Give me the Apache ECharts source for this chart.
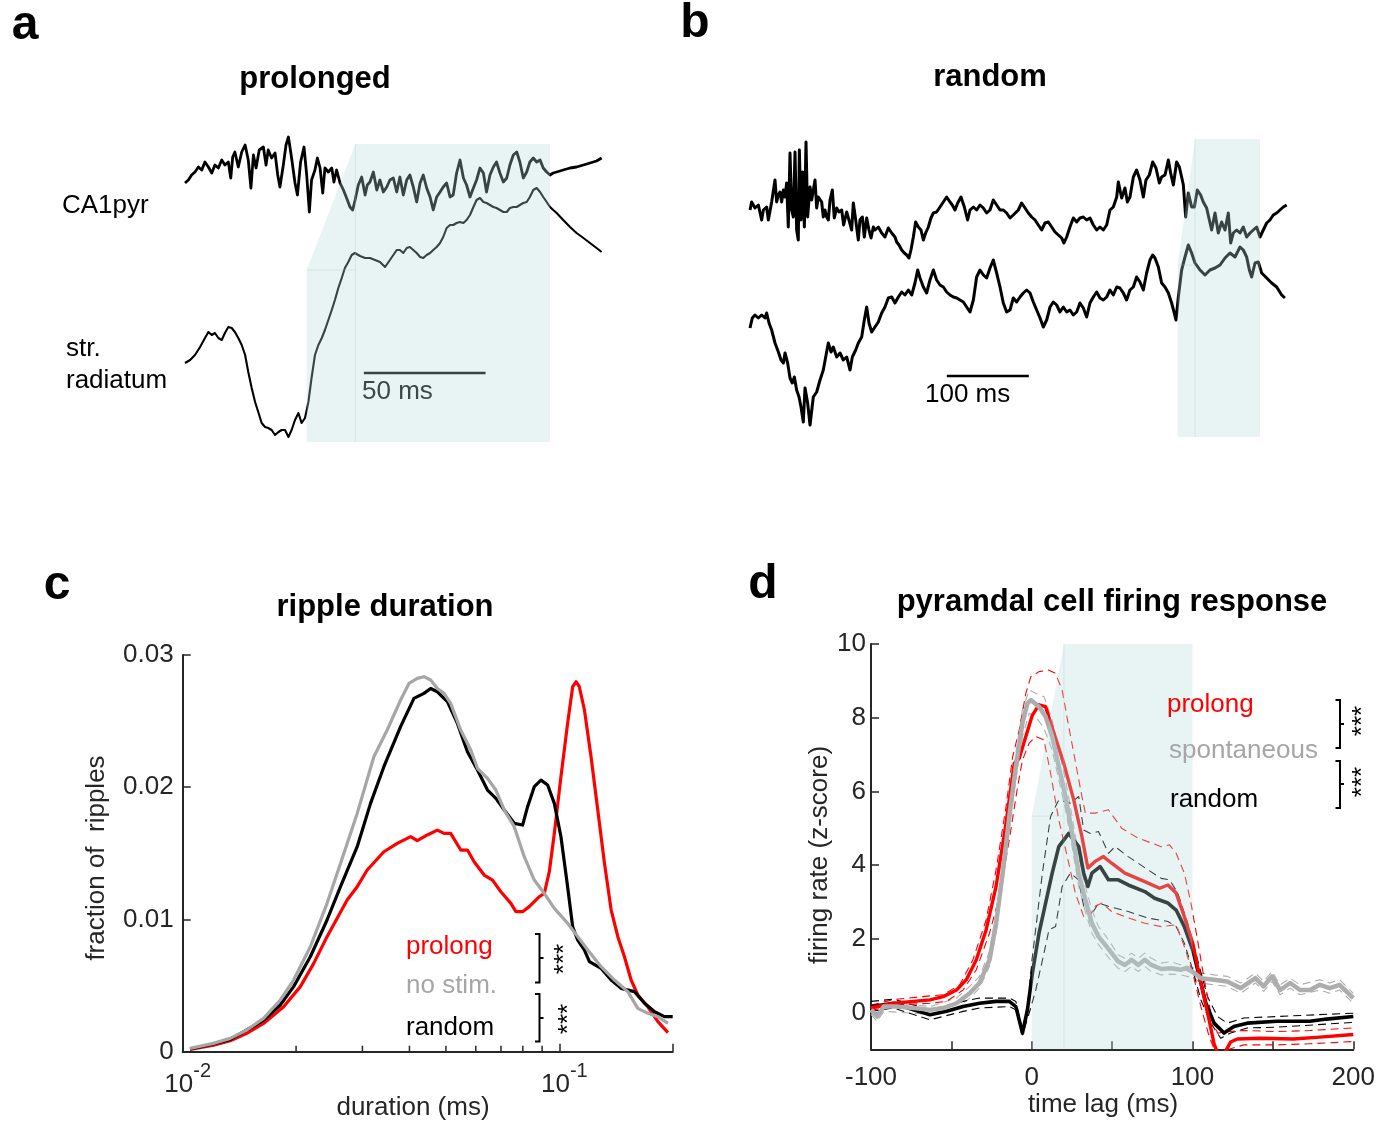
<!DOCTYPE html>
<html>
<head>
<meta charset="utf-8">
<script src="https://cdn.jsdelivr.net/npm/echarts@6/dist/echarts.min.js"></script>
<style>
html,body{margin:0;padding:0;background:#fff;}
#chart{width:1378px;height:1124px;}
</style>
</head>
<body>
<div id="chart"></div>
<script>
// ---------- Panel a: example traces (time ms, amplitude a.u.) ----------
const ca1pyrA = [[0,262],[1.4,265],[2.7,270],[4.1,273],[5.5,278],[6.9,275],[8.2,283],[9.6,278],[11,272],[12.3,280],[13.7,277],[15.1,285],[16.4,280],[17.8,283],[18.8,267],[19.6,288],[20.5,293],[21.9,278],[23.3,293],[24.7,300],[26,285],[27.1,257],[28.1,290],[29.2,277],[30.5,295],[32.2,298],[33.3,280],[34.2,295],[35.6,287],[37,292],[38.1,270],[39,258],[40.4,280],[41.5,300],[42.5,308],[43.8,287],[45.2,262],[46.2,250],[47.5,283],[48.9,298],[50,270],[51.1,233],[52,265],[53.4,275],[54.4,287],[55.5,277],[56.6,252],[57.5,277],[58.9,273],[60.3,277],[61.2,263],[62.3,275],[63.7,262],[65.1,255],[66.4,247],[67.8,238],[68.9,235],[69.9,245],[71.2,260],[72.6,268],[74,250],[74.9,260],[76,263],[77.4,273],[78.8,255],[80.1,265],[81.5,253],[82.9,258],[84.2,265],[85.6,267],[87,253],[88.3,268],[89.7,250],[91.1,265],[92.4,270],[93.8,258],[95.2,243],[96.6,262],[97.9,270],[99.3,257],[100.7,248],[102,235],[103.4,248],[104.8,253],[106.1,258],[107.5,262],[108.9,248],[110.2,250],[111.6,272],[113,285],[114.4,267],[115.7,260],[117.1,248],[118.5,257],[119.8,265],[121.2,277],[122.6,272],[123.9,253],[125.3,270],[126.7,278],[128,283],[129.4,272],[130.8,263],[132.2,267],[133.5,280],[134.9,290],[136.3,293],[137.6,283],[139,267],[140.4,273],[141.7,283],[143.1,287],[144.5,283],[145.9,285],[147.2,277],[148.6,273],[150,270],[151.3,272],[152.7,273],[155.4,275],[158.2,277],[160.9,278],[163.7,280],[166.4,282],[169.1,284],[171.2,287]];
const radiatumA = [[0,82],[2.1,85],[4.1,90],[6.2,98],[8.2,107],[9.6,113],[11,110],[12.3,112],[13.7,107],[15.1,105],[16.4,112],[17.8,118],[19.2,117],[20.5,113],[21.9,107],[23.3,100],[24.7,90],[26,73],[27.4,57],[28.8,43],[30.1,33],[31.5,22],[32.9,18],[34.2,17],[35.6,15],[37,10],[38.4,13],[39.7,15],[41.1,15],[42.5,8],[43.8,15],[45.2,25],[46.6,32],[47.9,22],[49.3,27],[50.7,43],[52,67],[53.4,90],[54.8,100],[56.2,107],[57.5,115],[58.9,125],[60.3,135],[61.6,145],[63,157],[64.4,167],[65.7,177],[67.1,183],[68.5,190],[69.8,192],[71.9,189],[74,187],[76,187],[78.1,185],[80.1,183],[82.2,178],[84.2,185],[85.6,190],[87,195],[88.3,195],[89.7,192],[91.1,197],[92.4,198],[93.8,195],[95.2,192],[96.6,188],[97.9,187],[99.3,190],[100.7,192],[102,195],[103.4,198],[104.8,202],[106.1,208],[107.5,217],[108.9,220],[110.2,220],[111.6,222],[113,223],[114.4,222],[115.7,225],[117.1,230],[118.5,238],[119.8,245],[121.2,247],[122.6,243],[123.9,242],[125.3,240],[126.7,238],[128,237],[129.4,235],[130.8,233],[132.2,233],[133.5,237],[134.9,238],[136.3,238],[137.6,240],[139,242],[140.4,243],[141.7,248],[143.1,255],[144.5,257],[145.9,253],[147.2,248],[148.6,243],[150,238],[151.3,235],[152.7,232],[155.4,225],[158.2,218],[160.9,212],[163.7,207],[166.4,202],[169.1,197],[171.2,193]];
const stimA = [50, 70, 150];      // stim onset, ramp end, stim offset (ms)
const scaleA = 50;                // scale bar length (ms)

// ---------- Panel b ----------
const ca1pyrB = [[0,230],[2,238],[6.1,232],[10.2,235],[14.2,220],[16.3,230],[20.3,233],[22.4,220],[26.4,238],[30.5,260],[32.5,238],[34.6,245],[36.6,248],[38.6,238],[40.7,250],[42.7,243],[44.7,257],[46.7,213],[48.8,287],[50.8,230],[52.8,223],[54.9,288],[56.9,210],[58.9,200],[60.2,290],[62.2,220],[64.2,268],[66.3,213],[68.3,298],[70.3,223],[73.2,253],[75.2,240],[79.3,260],[81.3,232],[83.3,243],[87.4,238],[89.4,223],[91.5,230],[93.5,223],[95.5,220],[97.6,240],[100.4,250],[102.8,222],[105.7,232],[108.5,228],[111.8,230],[114.2,215],[117.9,228],[120.7,220],[124,210],[126,237],[128.9,220],[132.1,200],[134.1,220],[137,223],[139.4,203],[142.3,222],[145.1,210],[147.6,202],[150.4,213],[152.4,210],[156.5,213],[160.6,207],[164.6,203],[168.7,212],[172.8,207],[176.8,203],[178.9,198],[181.7,195],[185,190],[188.2,187],[191.1,185],[193.9,182],[196.3,190],[199.2,203],[202,218],[205.3,213],[208.5,210],[211.4,200],[214.2,207],[217.5,213],[220.7,222],[223.6,227],[227.6,228],[231.7,233],[235.8,238],[239.8,243],[243.9,238],[246.7,235],[250,230],[253.3,237],[257.3,243],[261.4,233],[265.4,220],[268.3,230],[272.4,233],[276.4,230],[280.5,235],[284.6,232],[288.6,227],[292.7,230],[296.7,240],[300.8,235],[304.9,230],[308.9,230],[313,227],[317.1,222],[321.1,225],[327.2,230],[331.3,237],[335.4,232],[339.4,227],[343.5,223],[347.6,220],[351.6,215],[355.7,210],[359.8,217],[363.8,218],[367.9,213],[372,208],[376,205],[380.1,202],[382.9,197],[386.2,203],[390.2,213],[394.3,222],[398.4,218],[402.4,222],[406.5,223],[410.6,220],[414.6,222],[418.7,215],[422.8,210],[426.8,213],[430.9,210],[435,215],[439,230],[443.1,233],[447.2,243],[449.2,258],[453.3,242],[457.3,252],[460.2,238],[463.4,243],[467.5,263],[471.5,270],[475.6,260],[479.7,243],[482.9,260],[487,265],[491.1,278],[495.1,272],[499.2,257],[502,263],[506.1,265],[510.2,280],[513,267],[516.3,255],[520.3,278],[523.6,273],[526.4,263],[528.5,255],[531.3,223],[534.6,247],[538.6,233],[541.9,233],[545.5,250],[549.6,245],[552.8,238],[556.9,232],[560.2,220],[563,210],[567.1,227],[571.1,207],[575.2,218],[579.3,210],[583.3,227],[586.2,197],[589.4,207],[593.5,210],[597.6,207],[601.6,213],[605.7,203],[609.8,207],[613.8,210],[617.9,213],[622,203],[626,210],[630.1,217],[634.1,220],[638.2,225],[642.3,227],[646.3,230],[650.4,233],[654.5,235]];
const radiatumB = [[0,112],[2.8,122],[6.1,125],[10.2,122],[14.2,125],[18.3,122],[20.3,127],[23.2,117],[26.4,110],[30.5,97],[34.6,88],[37.8,80],[40.7,77],[42.7,87],[45.9,77],[48.8,62],[51.6,57],[54.1,63],[56.9,50],[59.8,43],[62.2,33],[65,18],[67.1,52],[70.3,37],[73.2,15],[77.2,43],[81.3,48],[85.4,60],[89.4,70],[92.3,83],[95.5,97],[98.8,88],[101.6,93],[105.7,83],[109.8,87],[113.8,80],[117.9,83],[122,70],[124.8,83],[128.9,90],[132.1,97],[136.2,103],[139.4,120],[142.3,133],[145.1,117],[148.4,108],[152.4,113],[156.5,118],[160.6,127],[164.6,133],[168.7,142],[172.8,143],[176.8,137],[180.9,143],[185,148],[189,145],[193.1,150],[197.2,145],[201.2,157],[204.5,170],[207.3,162],[211.4,153],[215.4,147],[219.5,160],[223.6,170],[227.6,160],[231.7,155],[235.8,153],[239.8,148],[243.9,145],[248,143],[252,142],[256.1,140],[260.2,138],[264.2,133],[268.3,128],[272.4,140],[276.4,163],[280.5,170],[284.6,165],[288.6,162],[292.7,172],[296.7,180],[300.8,167],[304.9,153],[308.9,137],[313,128],[317.1,130],[321.1,142],[325.2,138],[329.3,143],[333.3,147],[337.4,150],[341.5,147],[345.5,138],[349.6,130],[353.7,122],[357.7,113],[361.8,120],[365.9,133],[369.9,138],[374,135],[378,128],[382.1,133],[386.2,128],[390.2,130],[394.3,125],[398.4,128],[402.4,137],[406.5,132],[410.6,123],[414.6,137],[418.7,143],[422.8,148],[426.8,142],[430.9,140],[435,143],[439,150],[443.1,145],[447.2,153],[451.2,152],[455.3,147],[459.3,140],[463.4,150],[467.5,153],[471.5,163],[475.6,158],[479.7,150],[483.7,167],[487.8,180],[491.1,185],[493.9,182],[498,173],[502,157],[506.1,153],[510.2,147],[514.2,137],[517.1,128],[519.5,120],[522.4,143],[526.4,170],[530.5,183],[534.6,195],[538.6,187],[542.7,177],[548.8,170],[554.9,165],[561,170],[567.1,172],[573.2,175],[579.3,182],[585.4,187],[591.5,183],[597.6,193],[601.6,190],[605.7,183],[609,170],[611.8,163],[615.9,177],[619.9,178],[624,167],[630.1,162],[636.2,157],[642.3,153],[648.4,145],[652.4,142]];
const stimB = [521.6, 542.7, 622];
const scaleB = 100;

// ---------- Panel c: ripple duration distributions ----------
const prolongC = [[0.01046,0.00018],[0.01207,0.0005],[0.01337,0.00083],[0.0148,0.00139],[0.01639,0.00214],[0.01853,0.0034],[0.02053,0.00492],[0.02228,0.00668],[0.02417,0.0087],[0.02733,0.01147],[0.02906,0.01248],[0.0309,0.01374],[0.03421,0.01512],[0.03712,0.01575],[0.04029,0.01626],[0.04196,0.01596],[0.04462,0.01639],[0.04744,0.01676],[0.04942,0.01651],[0.05147,0.01651],[0.05472,0.01525],[0.05702,0.01525],[0.0594,0.01437],[0.06316,0.01336],[0.06647,0.01298],[0.06995,0.0121],[0.07437,0.01122],[0.07669,0.01059],[0.07989,0.01059],[0.08321,0.01097],[0.08848,0.01172],[0.09124,0.01197],[0.09406,0.01361],[0.09699,0.01651],[0.101,0.0208],[0.1052,0.02483],[0.1085,0.0276],[0.1108,0.02798],[0.113,0.0276],[0.1166,0.02584],[0.1214,0.02231],[0.1265,0.01828],[0.1318,0.01424],[0.1373,0.01071],[0.143,0.0087],[0.1489,0.00718],[0.1551,0.00542],[0.1616,0.00429],[0.1718,0.0034],[0.1827,0.00227],[0.1943,0.00144]];
const noStimC = [[0.01046,0.00025],[0.01207,0.00063],[0.01337,0.00101],[0.0148,0.00164],[0.01639,0.00252],[0.01816,0.00391],[0.0197,0.00542],[0.02182,0.00794],[0.02417,0.01122],[0.02624,0.01424],[0.02906,0.01802],[0.03218,0.02231],[0.03491,0.02433],[0.03789,0.02659],[0.03988,0.02785],[0.04196,0.02823],[0.04371,0.02836],[0.04554,0.02811],[0.04744,0.02747],[0.04942,0.0271],[0.05147,0.02634],[0.05472,0.02433],[0.0582,0.02281],[0.06062,0.02143],[0.06446,0.02067],[0.06785,0.01979],[0.0714,0.01828],[0.07591,0.01702],[0.0807,0.01475],[0.0858,0.01298],[0.09124,0.01197],[0.09699,0.01084],[0.1052,0.00971],[0.1119,0.0087],[0.119,0.00769],[0.1291,0.00643],[0.1401,0.00542],[0.152,0.00454],[0.1616,0.00328],[0.1718,0.0029],[0.1827,0.00265],[0.1943,0.00214]];
const randomC = [[0.01046,0.0002],[0.01207,0.00058],[0.01337,0.00093],[0.0148,0.00164],[0.01639,0.00239],[0.01816,0.00353],[0.0197,0.00492],[0.02182,0.00718],[0.02417,0.00996],[0.02624,0.01248],[0.02906,0.0155],[0.03153,0.01878],[0.03421,0.02155],[0.03789,0.02458],[0.04111,0.02672],[0.04371,0.0271],[0.04554,0.02747],[0.04744,0.02722],[0.05044,0.02647],[0.05362,0.02483],[0.05702,0.02269],[0.06062,0.0213],[0.06446,0.01979],[0.06785,0.01916],[0.0714,0.01828],[0.07591,0.01727],[0.07989,0.01714],[0.08237,0.01853],[0.0858,0.02004],[0.08939,0.02054],[0.09311,0.02017],[0.09699,0.01878],[0.101,0.01626],[0.1052,0.01248],[0.1085,0.00945],[0.1119,0.00844],[0.1166,0.00769],[0.1202,0.00681],[0.1291,0.0063],[0.1373,0.00542],[0.1459,0.00479],[0.1583,0.00454],[0.1684,0.00366],[0.179,0.00302],[0.1903,0.00265],[0.2,0.00265]];
const durationTicksC = [0.01, 0.1];
const durationMinorC = [0.02,0.03,0.04,0.05,0.06,0.07,0.08,0.09];

// ---------- Panel d: firing response (time lag ms, z-score) ----------
const prolongD = [[-100,0.12],[-85.9,0.25],[-63.3,0.34],[-55.1,0.43],[-46.8,0.61],[-40.7,0.89],[-34.5,1.43],[-28.4,2.24],[-22.2,3.42],[-16,5.14],[-10.9,6.76],[-7.8,6.9],[-3.7,7.49],[0.4,8.07],[4.5,8.35],[8.6,8.3],[13.8,7.58],[19.9,6.76],[26.1,5.77],[31.2,4.77],[34.9,3.92],[39.4,4.1],[44.6,4.23],[49.7,4.05],[57.9,3.78],[70.3,3.55],[79.5,3.37],[84.7,3.46],[89.8,3.24],[94.9,2.6],[100.1,1.88],[105.2,0.8],[110.3,-0.2],[113.4,-0.85],[116.5,-1.2],[120.6,-1.05],[123.7,-0.8],[127.8,-0.72],[142.2,-0.7],[162.7,-0.72],[179.2,-0.67],[200,-0.6]];
const prolongUpD = [[-100,0.2],[-85.9,0.35],[-63.3,0.45],[-55.1,0.48],[-44.8,0.75],[-36.6,1.43],[-28.4,2.51],[-22.2,3.87],[-16,5.59],[-11.9,6.94],[-7.8,7.67],[-3.7,8.66],[-0.6,9.11],[4.5,9.25],[10.7,9.29],[14.8,9.2],[18.9,8.75],[23,7.76],[28.1,6.58],[31.2,5.86],[33.3,5.41],[39.4,5.41],[47.7,5.5],[55.9,5.0],[66.2,4.73],[80.5,4.5],[85.7,4.55],[89.8,4.32],[94.9,3.78],[99,2.97],[103.1,1.97],[107.3,0.89],[111.4,-0.02],[115.5,-0.56],[121.6,-0.52],[131.9,-0.49],[152.5,-0.52],[173,-0.49],[200,-0.42]];
const prolongLoD = [[-100,0.05],[-85.9,0.2],[-63.3,0.25],[-53,0.3],[-42.7,0.61],[-34.5,1.16],[-26.3,2.15],[-20.1,3.15],[-14,4.68],[-8.8,6.13],[-5.8,6.85],[-1.6,7.31],[2.5,7.49],[7.6,7.4],[11.7,6.49],[16.8,5.23],[23,4.05],[27.1,3.24],[32.3,2.6],[35.3,2.56],[39.4,2.88],[43.6,2.97],[49.7,2.74],[57.9,2.6],[70.3,2.42],[80.5,2.33],[89.8,2.38],[94.9,1.79],[100.1,1.07],[105.2,0.16],[110.3,-0.65],[114.4,-1.1],[121.6,-1.01],[131.9,-0.88],[152.5,-0.88],[173,-0.85],[200,-0.79]];
const spontD = [[-100,0.07],[-96.2,-0.11],[-92,0.16],[-83.8,0.16],[-73.6,0.12],[-63.3,0.07],[-55.1,0.12],[-46.8,0.25],[-38.6,0.52],[-32.5,0.8],[-26.3,1.43],[-22.2,2.42],[-18.1,3.78],[-14,5.32],[-9.9,6.67],[-5.8,7.85],[-2.7,8.39],[-0.6,8.48],[4.5,8.3],[8.6,8.03],[12.7,7.49],[16.8,6.67],[21,5.86],[25.1,4.86],[29.2,3.78],[33.3,3.06],[37.4,2.42],[41.5,2.06],[45.6,1.84],[49.7,1.61],[53.8,1.38],[57.9,1.29],[62.1,1.43],[66.2,1.29],[70.3,1.43],[74.4,1.29],[80.5,1.18],[86.7,1.2],[92.9,1.16],[96,1.2],[101.1,1.07],[105.2,0.93],[113.4,0.89],[121.6,0.84],[129.9,0.66],[139.1,0.93],[144.2,0.71],[149.4,0.98],[154.5,0.61],[160.7,0.8],[166.8,0.61],[173,0.61],[179.2,0.75],[185.3,0.66],[191.5,0.75],[200,0.39]];
const spontUpD = [[-100,0.21],[-96.2,0.07],[-92,0.25],[-73.6,0.21],[-63.3,0.16],[-46.8,0.39],[-38.6,0.71],[-32.5,0.98],[-26.3,1.65],[-22.2,2.69],[-18.1,4.05],[-14,5.59],[-9.9,7.03],[-5.8,8.21],[-1.6,8.75],[2.5,8.66],[7.6,8.57],[12.7,7.94],[16.8,7.12],[21,6.31],[25.1,5.32],[29.2,4.23],[33.3,3.42],[37.4,2.78],[41.5,2.33],[45.6,2.1],[49.7,1.84],[53.8,1.56],[57.9,1.47],[62.1,1.61],[66.2,1.47],[70.3,1.61],[74.4,1.47],[80.5,1.34],[86.7,1.38],[92.9,1.29],[101.1,1.2],[105.2,1.07],[113.4,1.02],[121.6,0.98],[129.9,0.8],[139.1,1.07],[144.2,0.84],[149.4,1.11],[154.5,0.75],[160.7,0.93],[166.8,0.75],[179.2,0.89],[185.3,0.8],[191.5,0.89],[200,0.52]];
const spontLoD = [[-100,-0.05],[-96.2,-0.24],[-92,0.03],[-73.6,-0.02],[-63.3,-0.06],[-46.8,0.12],[-38.6,0.39],[-32.5,0.66],[-26.3,1.25],[-22.2,2.15],[-18.1,3.5],[-14,4.95],[-9.9,6.31],[-5.8,7.49],[-1.6,8.12],[2.5,8.03],[7.6,7.71],[12.7,7.12],[16.8,6.31],[21,5.5],[25.1,4.5],[29.2,3.42],[33.3,2.74],[37.4,2.15],[41.5,1.84],[45.6,1.61],[49.7,1.38],[53.8,1.2],[57.9,1.11],[62.1,1.25],[66.2,1.11],[70.3,1.25],[74.4,1.11],[80.5,1.02],[86.7,1.04],[92.9,1.02],[101.1,0.93],[105.2,0.8],[113.4,0.75],[121.6,0.71],[129.9,0.52],[139.1,0.8],[144.2,0.57],[149.4,0.84],[154.5,0.48],[160.7,0.66],[166.8,0.48],[179.2,0.61],[185.3,0.52],[191.5,0.61],[200,0.25]];
const randomD = [[-100,0.16],[-92,0.21],[-85.9,0.25],[-73.6,0.07],[-63.3,-0.06],[-53,0.03],[-42.7,0.16],[-32.5,0.25],[-22.2,0.3],[-14,0.3],[-9.9,0.16],[-5.8,-0.56],[-2.7,0.07],[0.4,1.07],[4.5,2.15],[8.6,2.97],[12.7,3.78],[16.8,4.5],[23,4.86],[29.2,4.5],[32.3,3.78],[34.9,3.42],[37.4,3.78],[42.5,3.96],[47.7,3.6],[53.8,3.6],[60,3.46],[70.3,3.28],[76.4,3.1],[84.7,2.97],[89.8,2.78],[94.9,2.33],[100.1,1.7],[104.2,0.98],[108.3,0.25],[113.4,-0.29],[119.6,-0.56],[125.7,-0.38],[134,-0.29],[152.5,-0.24],[173,-0.24],[183.3,-0.18],[200,-0.11]];
const randomUpD = [[-100,0.3],[-85.9,0.36],[-63.3,0.07],[-42.7,0.3],[-32.5,0.39],[-14,0.39],[-9.9,0.3],[-5.8,-0.47],[-2.7,0.16],[0.4,1.52],[6.6,3.78],[11.7,5.32],[16.8,5.77],[24,5.68],[29.2,5.86],[32.3,4.95],[36.4,4.86],[41.5,4.91],[47.7,4.32],[51.8,4.5],[60,4.23],[72.3,3.87],[80.5,3.64],[85.7,3.6],[90.8,3.24],[97,2.42],[103.1,1.43],[109.3,0.43],[115.5,-0.11],[121.6,-0.29],[131.9,-0.15],[152.5,-0.11],[200,-0.02]];
const randomLoD = [[-100,0.03],[-85.9,0.12],[-63.3,-0.2],[-42.7,0.03],[-32.5,0.12],[-14,0.16],[-9.9,0.07],[-5.8,-0.61],[-1.6,-0.02],[2.5,0.61],[7.6,1.61],[10.7,2.24],[14.8,2.33],[18.9,3.42],[24,3.78],[29.2,3.6],[32.3,2.88],[36.4,2.6],[41.5,2.97],[47.7,2.88],[60,2.74],[72.3,2.56],[84.7,2.47],[89.8,2.33],[94.9,1.88],[100.1,1.16],[105.2,0.34],[111.4,-0.29],[117.5,-0.7],[123.7,-0.56],[134,-0.42],[152.5,-0.4],[200,-0.27]];
const stimD = [0, 20, 100];

// ---------- styles ----------
const FONT = '"Liberation Sans", Arial, Helvetica, sans-serif';
const AX = '#262626';
const RED = '#ff0000', GRAY = '#a6a6a6', GRAYD = '#adadad', BLACK = '#000000';

function line(idx, data, color, width, dashed, z) {
  return { type: 'line', xAxisIndex: idx, yAxisIndex: idx, data: data, showSymbol: false, symbol: 'none',
    clip: true, animation: false, silent: true, z: z || 2,
    lineStyle: { color: color, width: width, type: dashed ? [8, 5] : 'solid', join: 'round' } };
}
function shade(idx, win, yLo, yMid, yHi) {
  return { type: 'custom', xAxisIndex: idx, yAxisIndex: idx, z: 8, silent: true, animation: false, clip: false,
    data: [[win[0], yLo]],
    renderItem: function (params, api) {
      const p = (t, y) => api.coord([t, y]);
      const a = p(win[0], yLo), b = p(win[0], yMid), c = p(win[1], yHi), d = p(win[2], yHi), e = p(win[2], yLo);
      const v0 = p(win[1], yLo), h1 = p(win[1], yMid);
      return { type: 'group', children: [
        { type: 'polygon', shape: { points: [a, b, c, d, e] }, style: { fill: 'rgba(180,219,219,0.31)' } },
        { type: 'line', shape: { x1: v0[0], y1: v0[1], x2: c[0], y2: c[1] }, style: { stroke: 'rgba(160,200,200,0.3)', lineWidth: 1 } },
        { type: 'line', shape: { x1: b[0], y1: b[1], x2: h1[0], y2: h1[1] }, style: { stroke: 'rgba(160,200,200,0.3)', lineWidth: 1 } }
      ]};
    } };
}
function T(text, x, y, o) {
  o = o || {};
  return { type: 'text', x: x, y: y, rotation: o.rot || 0, z: 100, silent: true,
    style: { text: text, fill: o.color || '#000', fontSize: o.size || 26, fontWeight: o.bold ? 'bold' : 'normal',
      fontFamily: FONT, textAlign: o.align || 'center', textVerticalAlign: 'middle', align: o.align || 'center', verticalAlign: 'middle' } };
}
function bracket(x, y1, y2, ym) {
  return { type: 'group', z: 100, silent: true, children: [
    { type: 'polyline', shape: { points: [[x - 4.5, y1], [x, y1], [x, y2], [x - 4.5, y2]] }, style: { stroke: '#000', lineWidth: 2, fill: null } },
    { type: 'line', shape: { x1: x, y1: ym, x2: x + 4, y2: ym }, style: { stroke: '#000', lineWidth: 2 } }
  ]};
}
const hidden = (idx, min, max) => ({ gridIndex: idx, type: 'value', min: min, max: max, show: false });
const axisCommon = {
  axisLine: { show: true, onZero: false, lineStyle: { color: AX, width: 2 } },
  axisTick: { show: true, inside: true, length: 8, lineStyle: { color: AX, width: 1.5 } },
  splitLine: { show: false }
};
const lbl = (extra) => Object.assign({ color: AX, fontSize: 26, fontFamily: FONT }, extra);

const chart = echarts.init(document.getElementById('chart'), null, { renderer: 'canvas' });
const option = {
  animation: false,
  backgroundColor: '#ffffff',
  grid: [
    { left: 185, top: 130, width: 418.6, height: 315 },
    { left: 750, top: 130, width: 537.9, height: 310 },
    { left: 182.7, top: 655, width: 490, height: 396.7 },
    { left: 871, top: 644, width: 486.7, height: 405.3 }
  ],
  xAxis: [
    hidden(0, 0, 172),
    hidden(1, 0, 656),
    Object.assign({ gridIndex: 2, type: 'log', logBase: 10, min: 0.01, max: 0.2,
      axisLabel: lbl({ margin: 10, padding: [0, 0, 0, 10],
        formatter: function (v) {
          const l = Math.log10(v), e = Math.round(l);
          const ok = durationTicksC.some(t => Math.abs(t - v) < 1e-9);
          if (!ok || Math.abs(l - e) > 1e-6) return '';
          return '{b|10}{s|' + e + '}';
        },
        rich: { b: { fontSize: 26, fontFamily: FONT, color: AX, lineHeight: 36, verticalAlign: 'bottom' },
                s: { fontSize: 20, fontFamily: FONT, color: AX, lineHeight: 36, verticalAlign: 'top' } } }) }, axisCommon),
    Object.assign({ gridIndex: 3, type: 'value', min: -100, max: 200, interval: 50,
      axisLabel: lbl({ margin: 16, formatter: v => (v % 100 === 0 ? String(v) : '') }) }, axisCommon)
  ],
  yAxis: [
    hidden(0, 0, 315),
    hidden(1, 0, 310),
    Object.assign({ gridIndex: 2, type: 'value', min: 0, max: 0.03, interval: 0.01,
      axisLabel: lbl({ margin: 9, formatter: v => (Math.abs(v) < 1e-9 ? '0' : v.toFixed(2)) }) }, axisCommon),
    Object.assign({ gridIndex: 3, type: 'value', min: -1, max: 10, splitNumber: 5,
      axisLabel: lbl({ margin: 5, formatter: v => (v >= 0 && Math.abs(v % 2) < 1e-9 ? String(v) : '') }) }, axisCommon)
  ],
  series: [
    // panel a
    line(0, ca1pyrA, BLACK, 2.8),
    line(0, radiatumA, BLACK, 2.1),
    line(0, [[73.5, 72], [73.5 + scaleA, 72]], BLACK, 2.5),
    shade(0, stimA, 3, 175, 301),
    // panel b
    line(1, ca1pyrB, BLACK, 3),
    line(1, radiatumB, BLACK, 3),
    line(1, [[240, 64], [240 + scaleB, 64]], BLACK, 2.5),
    shade(1, stimB, 3, 175, 301),
    // panel c
    line(2, prolongC, RED, 3.2),
    line(2, randomC, BLACK, 3.2),
    line(2, noStimC, GRAY, 3.2),
    { type: 'custom', xAxisIndex: 2, yAxisIndex: 2, z: 6, silent: true, animation: false,
      data: durationMinorC.map(v => [v, 0]),
      renderItem: function (params, api) {
        const p = api.coord([api.value(0), api.value(1)]);
        return { type: 'line', shape: { x1: p[0], y1: p[1], x2: p[0], y2: p[1] - 6 }, style: { stroke: AX, lineWidth: 1.5 } };
      } },
    // panel d
    line(3, spontUpD, GRAYD, 1.1, true),
    line(3, spontLoD, GRAYD, 1.1, true),
    line(3, randomUpD, BLACK, 1.1, true),
    line(3, randomLoD, BLACK, 1.1, true),
    line(3, prolongUpD, RED, 1.1, true),
    line(3, prolongLoD, RED, 1.1, true),
    line(3, randomD, BLACK, 3.6, false, 3),
    line(3, prolongD, RED, 3.4, false, 3),
    line(3, spontD, GRAYD, 4.5, false, 3),
    shade(3, stimD, -1, 5.33, 10)
  ],
  graphic: [
    T('a', 25, 26, { bold: true, size: 48 }),
    T('b', 695, 24, { bold: true, size: 48 }),
    T('c', 57, 586, { bold: true, size: 48 }),
    T('d', 763, 585, { bold: true, size: 48 }),
    T('prolonged', 315, 79, { bold: true, size: 31 }),
    T('random', 990, 77, { bold: true, size: 31 }),
    T('ripple duration', 385, 607, { bold: true, size: 31 }),
    T('pyramdal cell firing response', 1112, 602, { bold: true, size: 31 }),
    T('CA1pyr', 62, 206, { align: 'left' }),
    T('str.', 66, 349, { align: 'left' }),
    T('radiatum', 66, 381, { align: 'left' }),
    T('50 ms', 362, 392, { align: 'left', color: '#3c4747' }),
    T('100 ms', 925, 395, { align: 'left' }),
    T('fraction of  ripples', 97, 858, { rot: Math.PI / 2, color: AX }),
    T('duration (ms)', 413, 1108, { color: AX }),
    T('firing rate (z-score)', 820, 855, { rot: Math.PI / 2, color: AX }),
    T('time lag (ms)', 1103, 1105, { color: AX }),
    T('prolong', 406, 947, { align: 'left', color: RED }),
    T('no stim.', 406, 986, { align: 'left', color: GRAY }),
    T('random', 406, 1028, { align: 'left' }),
    T('prolong', 1167, 705, { align: 'left', color: RED }),
    T('spontaneous', 1169, 751, { align: 'left', color: GRAY }),
    T('random', 1170, 800, { align: 'left' }),
    bracket(539.5, 934, 982.5, 958),
    bracket(539.5, 994, 1041.5, 1018),
    bracket(1340, 700, 748, 724),
    bracket(1340, 761, 808, 784),
    T('***', 565, 959, { rot: Math.PI / 2 }),
    T('***', 569, 1019, { rot: Math.PI / 2 }),
    T('***', 1363, 721, { rot: Math.PI / 2 }),
    T('***', 1363, 782, { rot: Math.PI / 2 })
  ]
};
chart.setOption(option);
</script>
</body>
</html>
